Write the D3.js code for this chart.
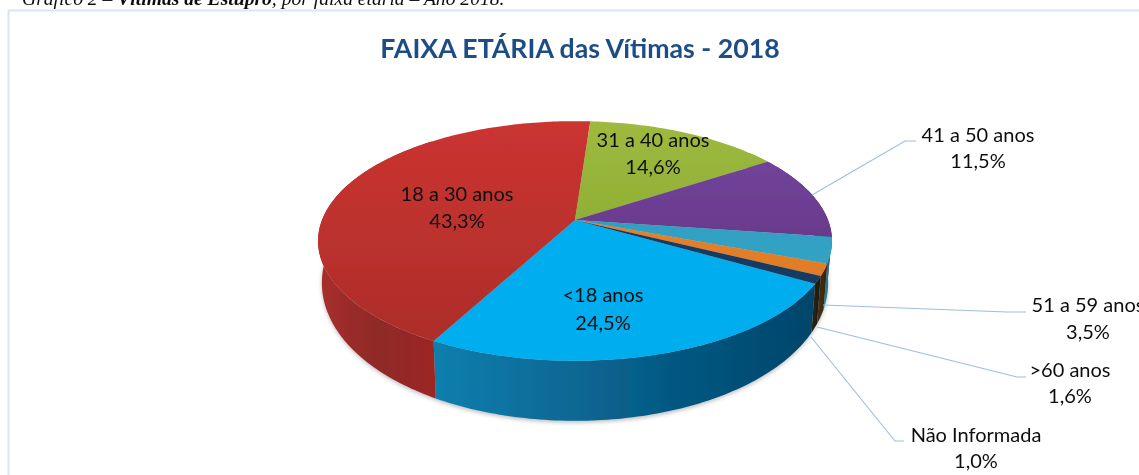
<!DOCTYPE html>
<html><head><meta charset="utf-8">
<script src="https://cdn.jsdelivr.net/npm/d3@7"></script>
<style>html,body{margin:0;padding:0;background:#fff;overflow:hidden}svg{display:block}</style>
</head><body><svg id="c" width="1139" height="475"></svg>
<script>
const categories=["<18 anos","18 a 30 anos","31 a 40 anos","41 a 50 anos","51 a 59 anos",">60 anos","Não Informada"];
const shares=[24.5,43.3,14.6,11.5,3.5,1.6,1.0];
const shareLabels=["24,5%","43,3%","14,6%","11,5%","3,5%","1,6%","1,0%"];
const topStops=[["#00adef","#00adef"],["#cb3430","#ad2d2b"],["#9fb93f","#8fb036"],["#70439a","#693a8c"],["#2f9fc2","#33a3c4"],["#e5802a","#e07c28"],["#123a63","#123a63"]];
const wallStops=[["#0d7fae","#075f8a","#02456a"],["#a82e2b","#8f2a28","#9c2624"],["#7d9a30","#7d9a30"],["#5a3380","#3d2459"],["#2a8aa8","#1d5f75"],["#4a3214","#33240e"],["#2a2414","#1d1a10"]];

const svg=d3.select("#c");
const W=1139,H=475;
// projection of the unit disc onto the tilted pie
const cx0=575,R=253,A=77.65,B=220,k=-0.175;
const proj=(u,v,drop,sc)=>{
  const w=1+k*v;
  return [cx0+sc*R*u/w,(A*v+B)/w+drop*(38+22*v)];
};
const pt=(ang,drop,sc,r=1)=>proj(r*Math.sin(ang),-r*Math.cos(ang),drop,sc);
const deg=d=>d*Math.PI/180;
const pie=d3.pie().sort(null).startAngle(deg(120)).endAngle(deg(480));
const arcs=pie(shares);
const line=d3.line();
const DROP=1,SC=0.985;

const defs=svg.append("defs");
const filt=(id,sd)=>{defs.append("filter").attr("id",id).attr("x","-5%").attr("y","-5%").attr("width","110%").attr("height","115%")
  .append("feGaussianBlur").attr("stdDeviation",sd);};
filt("soft",0.7);filt("sh",2.2);filt("txt",0.3);
const gradient=(id,stops,vertical)=>{
  const g=defs.append("linearGradient").attr("id",id).attr("x1",0).attr("y1",0).attr("x2",vertical?0:1).attr("y2",vertical?1:0);
  stops.forEach((c,j)=>g.append("stop").attr("offset",j/(stops.length-1)).attr("stop-color",c));
};

// caption and frame
svg.append("text").attr("x",22).attr("y",4.5).attr("font-family","Liberation Serif").attr("font-size",19.6).attr("font-style","italic")
 .attr("fill","#111").attr("filter","url(#txt)").html('Gráfico 2 – <tspan font-weight="bold">Vítimas de Estupro</tspan>, por faixa etária – Ano 2018.');
svg.append("path").attr("d",line([[W+2,10.5],[8.5,10.5],[8.5,H+2]])).attr("fill","none").attr("stroke","#dce6f2").attr("stroke-width",2);

// title
svg.append("text").attr("x",580).attr("y",58).attr("text-anchor","middle").attr("font-family","Lato").attr("font-weight",700)
 .attr("font-size",26.7).attr("fill","#1f4e87").attr("filter","url(#txt)").text("FAIXA ETÁRIA das Vítimas - 2018");

// shadow under the pie
const outline=d3.range(0,361,3).map(a=>pt(deg(a),DROP*1.03,SC));
svg.append("path").attr("d",line(outline)+"Z").attr("fill","#777").attr("opacity",.5).attr("filter","url(#sh)");
const pieG=svg.append("g").attr("filter","url(#soft)");

// wall: each slice is filled with a horizontal shade
const rim=(a,b,drop,sc)=>{
  const n=Math.ceil(Math.abs(b-a)/deg(1))+1;
  return d3.range(n+1).map(j=>pt(a+(b-a)*j/n,drop,sc));
};
arcs.forEach((d,i)=>{
  // the rim facing the viewer, carried on far enough to hide behind the top face at the sides
  [0,deg(360)].forEach((shift,q)=>{
    const a0=Math.max(d.startAngle-shift,deg(50)),a1=Math.min(d.endAngle-shift,deg(320));
    if(a1<=a0)return;
    gradient("w"+i+"_"+q,wallStops[i],false);
    pieG.append("path").attr("d",line([...rim(a0,a1,0,1),...rim(a1,a0,DROP,SC)])+"Z").attr("fill",`url(#w${i}_${q})`);
  });
});

// top face
arcs.forEach((d,i)=>{
  gradient("t"+i,topStops[i],true);
  const c=pt(0,0,1,0);
  pieG.append("path").attr("d",line([c,...rim(d.startAngle,d.endAngle,0,1)])+"Z").attr("fill",`url(#t${i})`);
});

// labels
const lab=(x,y,y2,a,b)=>{
  const t=svg.append("text").attr("text-anchor","middle").attr("font-family","Lato").attr("font-size",20).attr("fill","#111").attr("filter","url(#txt)");
  t.append("tspan").attr("x",x).attr("y",y).text(a);
  t.append("tspan").attr("x",x).attr("y",y2).text(b);
};
[[0,603,302,330],[1,457,201,228],[2,653,147,174]].forEach(([i,x,y,y2])=>lab(x,y,y2,categories[i],shareLabels[i]));

// outside labels and leaders
const outside=[
 [3,[[812,195],[905,141],[916,141]],978,142,168],
 [4,[[823,305],[1007,312],[1026,312]],1088,312,339],
 [5,[[817,327],[1017,377],[1026,377]],1070,377,403],
 [6,[[811,337],[895,441],[904,441]],976,442,468]
];
outside.forEach(([i,pts,x,y,y2])=>{
  svg.append("path").attr("d",line(pts)).attr("fill","none").attr("stroke","#9dbde4").attr("stroke-width",1.1);
  lab(x,y,y2,categories[i],shareLabels[i]);
});
</script></body></html>
